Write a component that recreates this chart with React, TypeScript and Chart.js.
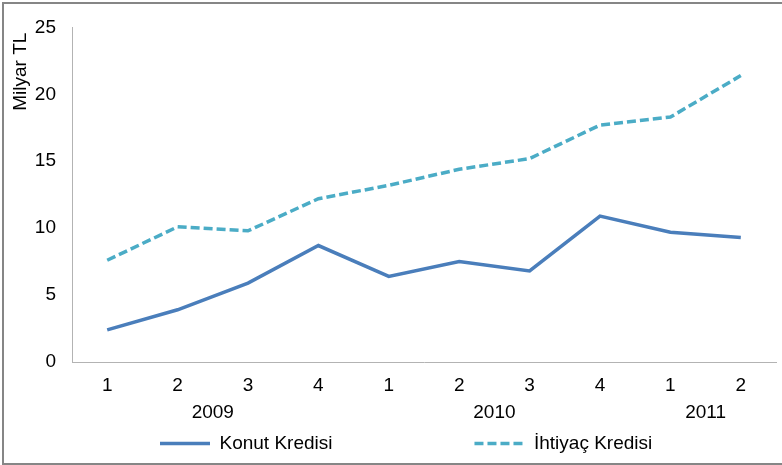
import React, { useEffect, useRef } from "react";
import { Chart, registerables } from "chart.js";

Chart.register(...registerables);

// ---- data ----
const quarters = ["1", "2", "3", "4", "1", "2", "3", "4", "1", "2"];
const years = ["2009", "2010", "2011"];
const yearSpans = [4, 4, 2];
const konutKredisi = [2.4, 3.9, 5.9, 8.7, 6.4, 7.5, 6.8, 10.9, 9.7, 9.3];
const ihtiyacKredisi = [7.6, 10.1, 9.8, 12.2, 13.2, 14.4, 15.2, 17.7, 18.3, 21.4];
const seriesNames = ["Konut Kredisi", "İhtiyaç Kredisi"];
const yTitle = "Milyar TL";
const yMin = 0;
const yMax = 25;
const yStep = 5;

const FONT = '"Liberation Sans", Arial, sans-serif';
const FS = 19;
const LINE_W = 3.5;
const DASH = [9, 4];

const yearLabelsPlugin = {
  id: "yearLabels",
  afterDraw(chart: any) {
    const xs = chart.scales.x;
    const ctx = chart.ctx;
    ctx.save();
    ctx.font = `${FS}px ${FONT}`;
    ctx.fillStyle = "#000";
    ctx.textAlign = "center";
    ctx.textBaseline = "middle";
    let start = 0;
    years.forEach((label, i) => {
      const end = start + yearSpans[i] - 1;
      const cx = (xs.getPixelForTick(start) + xs.getPixelForTick(end)) / 2;
      ctx.fillText(label, cx, chart.chartArea.bottom + 51);
      start += yearSpans[i];
    });
    ctx.restore();
  },
};

const legendShiftPlugin = {
  id: "legendShift",
  afterLayout(chart: any) {
    const lg = chart.legend;
    if (lg) {
      const w = lg.right - lg.left;
      lg.left = 150;
      lg.right = 150 + w;
    }
  },
};

export default function App() {
  const ref = useRef<HTMLCanvasElement | null>(null);

  useEffect(() => {
    if (!ref.current) return;
    Chart.defaults.font.family = FONT;
    Chart.defaults.font.size = FS;
    Chart.defaults.color = "#000";
    const chart = new Chart(ref.current, {
      type: "line",
      data: {
        labels: quarters,
        datasets: [
          {
            label: seriesNames[0],
            data: konutKredisi,
            borderColor: "#4a7ebb",
            backgroundColor: "#4a7ebb",
            borderWidth: LINE_W,
            pointRadius: 0,
            tension: 0,
            fill: false,
          },
          {
            label: seriesNames[1],
            data: ihtiyacKredisi,
            borderColor: "#4bacc6",
            backgroundColor: "#4bacc6",
            borderWidth: LINE_W,
            borderDash: DASH,
            pointRadius: 0,
            tension: 0,
            fill: false,
          },
        ],
      },
      options: {
        responsive: false,
        animation: false,
        layout: { padding: { top: 24, left: 0, right: 6, bottom: 2 } },
        plugins: {
          tooltip: { enabled: false },
          legend: {
            position: "bottom",
            align: "start",
            labels: {
              usePointStyle: true,
              pointStyle: "line",
              pointStyleWidth: 50,
              padding: 10,
              font: { size: FS, family: FONT },
              color: "#000",
              generateLabels: (c: any) => {
                const items = (Chart.defaults.plugins.legend.labels as any).generateLabels(c);
                items.forEach((it: any, i: number) => {
                  const ds: any = c.data.datasets[it.datasetIndex ?? i];
                  it.lineWidth = ds.borderWidth;
                  it.strokeStyle = ds.borderColor;
                  it.lineDash = ds.borderDash || [];
                  it.lineCap = "butt";
                });
                if (items.length > 0) items[0].text = items[0].text + " ".repeat(25);
                return items;
              },
            },
          },
        },
        scales: {
          x: {
            type: "category",
            offset: true,
            grid: { display: false, drawTicks: false },
            border: { display: true, color: "#b3b3b3", width: 1 },
            ticks: { padding: 12, maxRotation: 0, autoSkip: false, color: "#000", font: { size: FS } },
            afterFit: (s: any) => {
              s.height = 62;
            },
          },
          y: {
            min: yMin,
            max: yMax,
            grid: { display: false, drawTicks: false },
            border: { display: true, color: "#b3b3b3", width: 1 },
            ticks: { stepSize: yStep, padding: 16, color: "#000", font: { size: FS } },
            title: {
              display: true,
              text: yTitle + " ",
              align: "end",
              color: "#000",
              font: { size: FS, family: FONT },
              padding: { top: 9, bottom: 0 },
            },
            afterFit: (s: any) => {
              s.width = 72;
            },
          },
        },
      },
      plugins: [yearLabelsPlugin, legendShiftPlugin],
    } as any);
    return () => chart.destroy();
  }, []);

  return (
    <div style={{ position: "fixed", left: 0, top: 0, width: 782, height: 465, background: "#fff", overflow: "hidden" }}>
      <canvas ref={ref} width={782} height={465} style={{ position: "absolute", left: 0, top: 0, width: 782, height: 465 }} />
      <div
        style={{
          position: "absolute",
          left: 2,
          top: 2,
          width: 780,
          height: 463,
          boxSizing: "border-box",
          borderTop: "2px solid #868686",
          borderLeft: "2px solid #868686",
          borderBottom: "2px solid #868686",
          pointerEvents: "none",
        }}
      />
    </div>
  );
}
